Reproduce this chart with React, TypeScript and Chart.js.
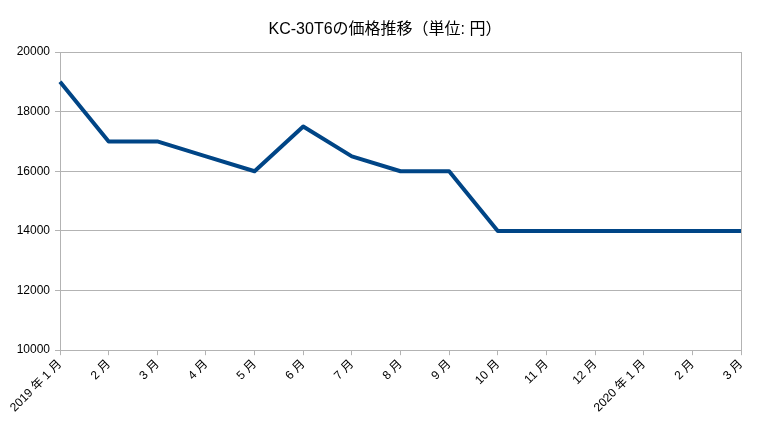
import React, { useEffect, useRef } from "react";
import { Chart, registerables } from "chart.js";

Chart.register(...registerables);

const titleText = "KC-30T6の価格推移（単位: 円）";
const months = [
  "2019 年 1 月", "2 月", "3 月", "4 月", "5 月", "6 月", "7 月", "8 月",
  "9 月", "10 月", "11 月", "12 月", "2020 年 1 月", "2 月", "3 月",
];
const prices = [19000, 17000, 17000, 16500, 16000, 17500, 16500, 16000, 16000, 14000, 14000, 14000, 14000, 14000, 14000];
const yMin = 10000;
const yMax = 20000;
const yStep = 2000;

const FONT = "'Liberation Sans', 'Noto Sans CJK JP', sans-serif";
const GRID = "#b3b3b3";

const centeredTitle = {
  id: "centeredTitle",
  afterDraw(chart: any) {
    const ctx = chart.ctx;
    ctx.save();
    ctx.font = `16px ${FONT}`;
    ctx.fillStyle = "#000";
    ctx.textAlign = "center";
    ctx.textBaseline = "middle";
    ctx.fillText(titleText, chart.width / 2 - 1, 30);
    ctx.restore();
  },
};

export default function App() {
  const ref = useRef<HTMLCanvasElement | null>(null);
  useEffect(() => {
    document.body.style.margin = "0";
    if (!ref.current) return;
    const last = months.length - 1;
    const chart = new Chart(ref.current, {
      type: "line",
      data: {
        labels: months,
        datasets: [
          {
            data: prices,
            borderColor: "#004586",
            backgroundColor: "#004586",
            borderWidth: 4,
            pointRadius: 0,
            tension: 0,
            borderJoinStyle: "round",
          },
        ],
      },
      options: {
        animation: false,
        responsive: false,
        maintainAspectRatio: false,
        layout: { padding: { left: 8, right: 31, top: 52, bottom: 18 } },
        plugins: {
          legend: { display: false },
          tooltip: { enabled: false },
          title: { display: false },
        },
        scales: {
          x: {
            offset: false,
            grid: {
              drawOnChartArea: true,
              color: (c: any) => (c.index === last ? GRID : "rgba(0,0,0,0)"),
              tickColor: GRID,
              tickLength: 5,
            },
            border: { color: GRID },
            ticks: {
              autoSkip: false,
              minRotation: 45,
              maxRotation: 45,
              color: "#000",
              padding: 2,
              font: { family: FONT, size: 12 },
            },
          },
          y: {
            min: yMin,
            max: yMax,
            grid: { color: GRID, tickColor: GRID, tickLength: 5 },
            border: { color: GRID },
            ticks: {
              stepSize: yStep,
              color: "#000",
              padding: 5,
              font: { family: FONT, size: 12 },
              callback: (v: any) => String(v),
            },
            afterFit: (s: any) => {
              s.width = 52;
            },
          },
        },
      },
      plugins: [centeredTitle],
    } as any);
    return () => chart.destroy();
  }, []);
  return (
    <div style={{ width: 772, height: 435 }}>
      <canvas ref={ref} width={772} height={435} style={{ display: "block" }} />
    </div>
  );
}
